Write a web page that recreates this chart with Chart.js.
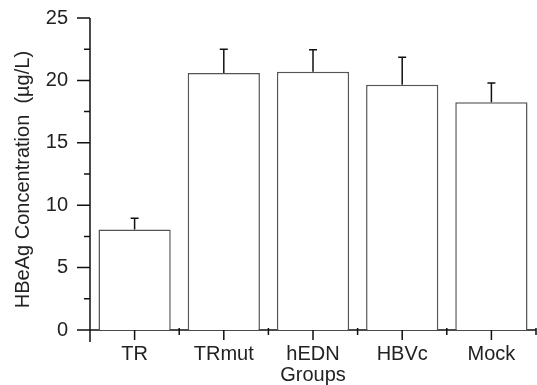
<!DOCTYPE html>
<html>
<head>
<meta charset="utf-8">
<script src="https://cdn.jsdelivr.net/npm/chart.js@4"></script>
<style>
  html, body { margin: 0; padding: 0; background: #fff; }
  #wrap { width: 537px; height: 385px; }
</style>
</head>
<body>
<div id="wrap"><canvas id="c"></canvas></div>
<script>
// values
const groups = ['TR', 'TRmut', 'hEDN', 'HBVc', 'Mock'];
const means  = [8.05, 20.6, 20.7, 19.65, 18.25];
const errors = [0.9, 1.9, 1.75, 2.2, 1.55];
const yMajor = [0, 5, 10, 15, 20, 25];
const yMinor = [2.5, 7.5, 12.5, 17.5, 22.5];

const INK = '#111';
const FONT = 'Liberation Sans, Arial, sans-serif';

// axis lines and tick marks, drawn under the bars
const axesPlugin = {
  id: 'axes',
  beforeDatasetsDraw(chart) {
    const { ctx, chartArea: a, scales: { x, y } } = chart;
    ctx.save();
    ctx.strokeStyle = INK;
    ctx.lineWidth = 1.5;
    ctx.beginPath();
    // y axis, runs a bit below the x axis
    ctx.moveTo(a.left, y.getPixelForValue(yMajor[yMajor.length - 1]));
    ctx.lineTo(a.left, a.bottom + 12);
    yMajor.forEach(v => {
      const py = y.getPixelForValue(v);
      ctx.moveTo(a.left - 13, py);
      ctx.lineTo(a.left, py);
    });
    yMinor.forEach(v => {
      const py = y.getPixelForValue(v);
      ctx.moveTo(a.left - 6, py);
      ctx.lineTo(a.left, py);
    });
    // x axis
    ctx.moveTo(a.left - 13, a.bottom);
    ctx.lineTo(a.right, a.bottom);
    groups.forEach((g, i) => {
      const px = x.getPixelForValue(i);
      ctx.moveTo(px, a.bottom);
      ctx.lineTo(px, a.bottom + 10);
      const bx = i < groups.length - 1 ? (px + x.getPixelForValue(i + 1)) / 2 : a.right;
      ctx.moveTo(bx, a.bottom - 2);
      ctx.lineTo(bx, a.bottom + 5);
    });
    ctx.stroke();
    ctx.restore();
  }
};

// SD error bars (upper only)
const errorPlugin = {
  id: 'errs',
  afterDatasetsDraw(chart) {
    const { ctx, scales: { y } } = chart;
    const meta = chart.getDatasetMeta(0);
    ctx.save();
    ctx.strokeStyle = INK;
    ctx.lineWidth = 1.5;
    ctx.beginPath();
    meta.data.forEach((bar, i) => {
      const y0 = y.getPixelForValue(means[i]);
      const y1 = y.getPixelForValue(means[i] + errors[i]);
      ctx.moveTo(bar.x, y0);
      ctx.lineTo(bar.x, y1);
      ctx.moveTo(bar.x - 4, y1);
      ctx.lineTo(bar.x + 4, y1);
    });
    ctx.stroke();
    ctx.restore();
  }
};

new Chart(document.getElementById('c'), {
  type: 'bar',
  data: {
    labels: groups,
    datasets: [{
      data: means,
      backgroundColor: '#fff',
      borderColor: '#555',
      borderWidth: 1.5,
      categoryPercentage: 1,
      barPercentage: 0.81,
    }],
  },
  options: {
    responsive: true,
    maintainAspectRatio: false,
    animation: false,
    layout: { padding: { top: 18, right: 1, left: 0, bottom: 0 } },
    plugins: { legend: { display: false }, tooltip: { enabled: false } },
    scales: {
      x: {
        grid: { display: false, drawTicks: false },
        border: { display: false },
        ticks: { color: '#222', font: { family: FONT, size: 20 }, padding: 12, maxRotation: 0 },
        title: { display: true, text: 'Groups', color: '#222', font: { family: FONT, size: 20 }, padding: { top: 0, bottom: -2 } },
        afterFit(s) { s.height = 55; s.paddingLeft = 0; s.paddingRight = 0; },
      },
      y: {
        min: 0,
        max: 25,
        grid: { display: false, drawTicks: false },
        border: { display: false },
        ticks: { stepSize: 5, color: '#222', font: { family: FONT, size: 20 }, padding: 22 },
        title: {
          display: true,
          text: 'HBeAg Concentration  (µg/L)  ',
          color: '#222',
          font: { family: FONT, size: 20 },
          padding: { top: 11, bottom: 0 },
        },
        afterFit(s) { s.width = 90; s.paddingTop = 0; s.paddingBottom = 0; },
      },
    },
  },
  plugins: [axesPlugin, errorPlugin],
});
</script>
</body>
</html>
